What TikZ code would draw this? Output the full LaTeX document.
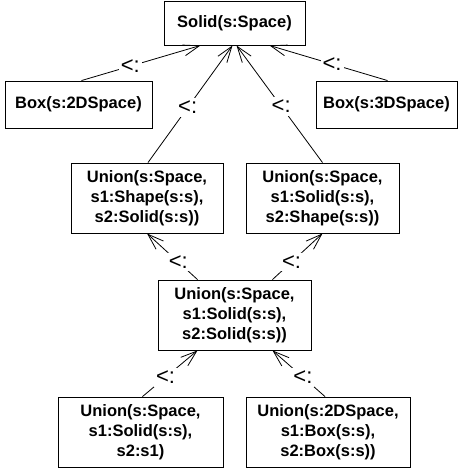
\documentclass[tikz,border=0pt]{standalone}
\usepackage{fontspec}
\setmainfont{Liberation Sans}
\usetikzlibrary{arrows.meta}
\begin{document}
\begin{tikzpicture}[x=1pt,y=-1pt,
  box/.style={draw,line width=0.9pt,align=center,inner sep=0pt,
    font=\bfseries\fontsize{16.5}{20}\selectfont},
  sub/.style={-{Straight Barb[length=16pt,width=11pt]},line width=0.8pt},
  lbl/.style={fill=white,inner xsep=2pt,inner ysep=3pt,font=\fontsize{22}{22}\selectfont}]
\useasboundingbox (0,0) rectangle (458,469);
\node[box,minimum width=141pt,minimum height=44pt] (top) at (234.5,23) {Solid(s:Space)};
\node[box,minimum width=147pt,minimum height=47pt] (b2d) at (78.5,104.5) {Box(s:2DSpace)};
\node[box,minimum width=141pt,minimum height=47pt] (b3d) at (386.5,104.5) {Box(s:3DSpace)};
\node[box,minimum width=152pt,minimum height=70pt] (uL) at (147,198) {Union(s:Space,\\s1:Shape(s:s),\\s2:Solid(s:s))};
\node[box,minimum width=153pt,minimum height=70pt] (uR) at (322.5,198) {Union(s:Space,\\s1:Solid(s:s),\\s2:Shape(s:s))};
\node[box,minimum width=153pt,minimum height=70pt] (uM) at (234.5,315) {Union(s:Space,\\s1:Solid(s:s),\\s2:Solid(s:s))};
\node[box,minimum width=165pt,minimum height=70pt] (bL) at (140.5,432) {Union(s:Space,\\s1:Solid(s:s),\\s2:s1)};
\node[box,minimum width=164pt,minimum height=70pt] (bR) at (328,432) {Union(s:2DSpace,\\s1:Box(s:s),\\s2:Box(s:s))};
\draw[sub] ([xshift=3pt]b2d.north) -- node[lbl,pos=0.41]{<:} ([xshift=-34pt]top.south);
\draw[sub] ([xshift=1pt]b3d.north) -- node[lbl,pos=0.47]{<:} ([xshift=35pt]top.south);
\draw[sub] ([xshift=1pt]uL.north) -- node[lbl,pos=0.47]{<:} ([xshift=-2pt]top.south);
\draw[sub] (uR.north) -- node[lbl,pos=0.48]{<:} ([xshift=2pt]top.south);
\draw[sub] ([xshift=-37pt]uM.north) -- node[lbl,pos=0.38]{<:} (uL.south);
\draw[sub] ([xshift=38pt]uM.north) -- node[lbl,pos=0.38]{<:} (uR.south);
\draw[sub] ([xshift=2pt]bL.north) -- node[lbl,pos=0.42]{<:} ([xshift=-37pt]uM.south);
\draw[sub] ([xshift=-3pt]bR.north) -- node[lbl,pos=0.42]{<:} ([xshift=38pt]uM.south);
\end{tikzpicture}
\end{document}
